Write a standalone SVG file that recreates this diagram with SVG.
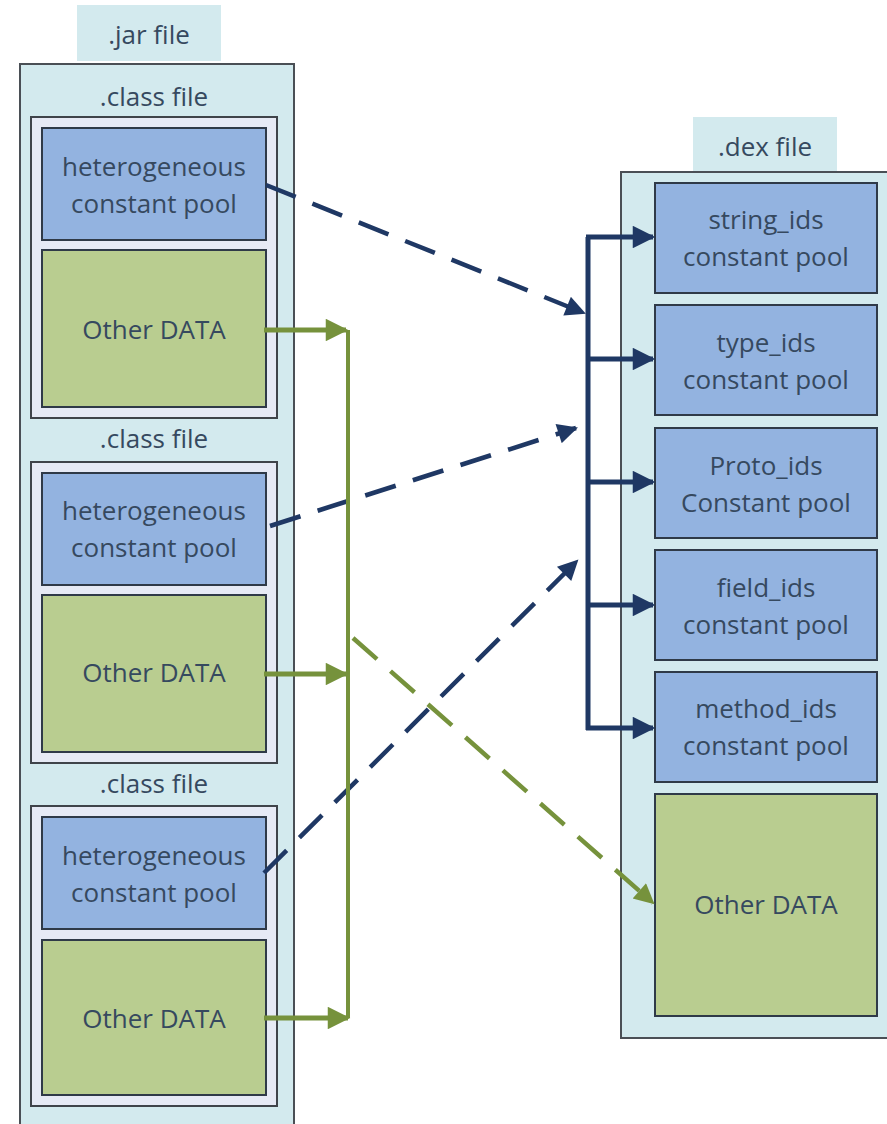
<svg xmlns="http://www.w3.org/2000/svg" width="887" height="1124" viewBox="0 0 887 1124">
<style>
.lbl{fill:#d3eaee}
.outer{fill:#d3eaee;stroke:#4a4f55;stroke-width:2}
.cls{fill:#e6eaf5;stroke:#3f444a;stroke-width:2}
.blue{fill:#93b3e0;stroke:#2f3a48;stroke-width:2}
.green{fill:#b9cd90;stroke:#2f3a48;stroke-width:2}
text{font-family:"Open Sans","Liberation Sans",sans-serif;font-size:26px;fill:#36495f;text-anchor:middle}
.nav{stroke:#1f3864;stroke-width:5;fill:none}
.navd{stroke:#1f3864;stroke-width:4.5;fill:none;stroke-dasharray:32 18}
.grn{stroke:#76923c;stroke-width:4;fill:none}
.grnt{stroke:#76923c;stroke-width:5;fill:none}
.grnd{stroke:#76923c;stroke-width:4.5;fill:none;stroke-dasharray:32 18}
</style>
<defs>
<marker id="an" viewBox="0 0 10 10" refX="9" refY="5" markerWidth="5" markerHeight="4.5" orient="auto" markerUnits="strokeWidth"><path d="M0,0 L10,5 L0,10 z" fill="#1f3864"/></marker>
<marker id="ag" viewBox="0 0 10 10" refX="9" refY="5" markerWidth="5" markerHeight="4.5" orient="auto" markerUnits="strokeWidth"><path d="M0,0 L10,5 L0,10 z" fill="#76923c"/></marker>
</defs>
<rect width="887" height="1124" fill="#ffffff"/>
<g id="jar">
<rect class="lbl" x="77" y="5" width="144" height="56"/>
<text x="149" y="44">.jar file</text>
<rect class="outer" x="20" y="64" width="274" height="1070"/>
</g>
<g id="class1">
<text x="154" y="106">.class file</text>
<rect class="cls" x="31" y="117" width="246" height="301"/>
<rect class="blue" x="42" y="128" width="224" height="112"/>
<text x="154" y="176">heterogeneous</text>
<text x="154" y="213">constant pool</text>
<rect class="green" x="42" y="250" width="224" height="157"/>
<text x="154" y="339">Other DATA</text>
</g>
<g id="class2">
<text x="154" y="448">.class file</text>
<rect class="cls" x="31" y="462" width="246" height="301"/>
<rect class="blue" x="42" y="473" width="224" height="112"/>
<text x="154" y="520">heterogeneous</text>
<text x="154" y="557">constant pool</text>
<rect class="green" x="42" y="595" width="224" height="157"/>
<text x="154" y="682">Other DATA</text>
</g>
<g id="class3">
<text x="154" y="793">.class file</text>
<rect class="cls" x="31" y="806" width="246" height="300"/>
<rect class="blue" x="42" y="817" width="224" height="112"/>
<text x="154" y="865">heterogeneous</text>
<text x="154" y="902">constant pool</text>
<rect class="green" x="42" y="940" width="224" height="155"/>
<text x="154" y="1028">Other DATA</text>
</g>
<g id="dex">
<rect class="lbl" x="693" y="117" width="144" height="55"/>
<text x="765" y="156">.dex file</text>
<rect class="outer" x="621" y="172" width="272" height="866"/>
</g>
<g id="string_ids">
<rect class="blue" x="655" y="183" width="222" height="110"/>
<text x="766" y="229">string_ids</text>
<text x="766" y="266">constant pool</text>
</g>
<g id="type_ids">
<rect class="blue" x="655" y="305" width="222" height="110"/>
<text x="766" y="352">type_ids</text>
<text x="766" y="389">constant pool</text>
</g>
<g id="proto_ids">
<rect class="blue" x="655" y="428" width="222" height="110"/>
<text x="766" y="475">Proto_ids</text>
<text x="766" y="512">Constant pool</text>
</g>
<g id="field_ids">
<rect class="blue" x="655" y="550" width="222" height="110"/>
<text x="766" y="597">field_ids</text>
<text x="766" y="634">constant pool</text>
</g>
<g id="method_ids">
<rect class="blue" x="655" y="672" width="222" height="110"/>
<text x="766" y="718">method_ids</text>
<text x="766" y="755">constant pool</text>
</g>
<g id="dex_other">
<rect class="green" x="655" y="794" width="222" height="222"/>
<text x="766" y="914">Other DATA</text>
</g>
<g id="connectors">
<path class="nav" d="M588,237 V730"/>
<path class="nav" d="M586,237 H653" marker-end="url(#an)"/>
<path class="nav" d="M588,359 H653" marker-end="url(#an)"/>
<path class="nav" d="M588,482 H653" marker-end="url(#an)"/>
<path class="nav" d="M588,605 H653" marker-end="url(#an)"/>
<path class="nav" d="M586,728 H653" marker-end="url(#an)"/>
<path class="navd" d="M266,185 L584,313" marker-end="url(#an)"/>
<path class="navd" d="M270,526 L576,428" marker-end="url(#an)"/>
<path class="navd" d="M264,873 L577,561" marker-end="url(#an)"/>
<path class="grn" d="M348,330 V1018"/>
<path class="grnt" d="M264,330 H346" marker-end="url(#ag)"/>
<path class="grnt" d="M264,674 H346" marker-end="url(#ag)"/>
<path class="grnt" d="M264,1018 H348" marker-end="url(#ag)"/>
<path class="grnd" d="M353,638 L653,903" marker-end="url(#ag)"/>
</g>
</svg>
